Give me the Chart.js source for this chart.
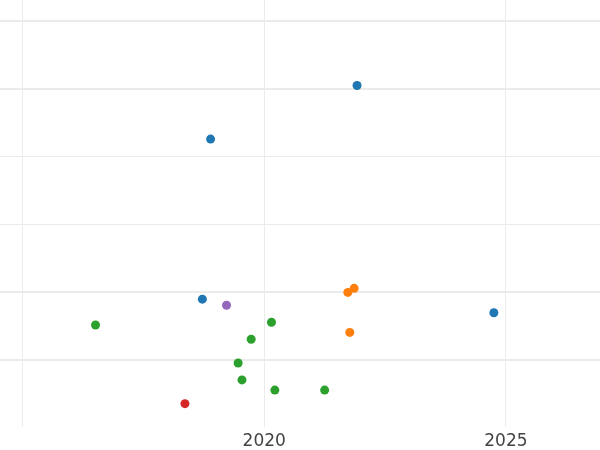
<!doctype html>
<html lang="en">
  <head>
    <meta charset="utf-8">
    <title>Scatter</title>
    <style>
      * { margin: 0; padding: 0; }
      body { background: white; }
      .chartBox { width: 600px; height: 450px; }
    </style>
  </head>
  <body>
    <div class="chartBox">
      <canvas id="myChart" width="600" height="450"></canvas>
    </div>
    <script src="https://cdn.jsdelivr.net/npm/chart.js/dist/chart.umd.min.js"></script>
    <script>
    // data
    const blueX   = [2021.92, 2018.89, 2018.72, 2024.75];
    const blueY   = [4.05, 3.26, 0.90, 0.70];
    const purpleX = [2019.22];
    const purpleY = [0.81];
    const orangeX = [2021.73, 2021.86, 2021.77];
    const orangeY = [1.00, 1.06, 0.41];
    const greenX  = [2016.51, 2020.15, 2019.73, 2019.46, 2019.54, 2020.22, 2021.25];
    const greenY  = [0.52, 0.56, 0.31, -0.04, -0.29, -0.44, -0.44];
    const redX    = [2018.36];
    const redY    = [-0.64];

    const xTicks = [2015, 2020, 2025];
    const xTickLabels = ['', '2020', '2025'];
    const yTicks = [0, 1, 2, 3, 4, 5];

    const pts = (xs, ys) => xs.map((x, i) => ({ x: x, y: ys[i] }));

    const series = [
      { data: pts(blueX, blueY), color: '#1f77b4' },
      { data: pts(purpleX, purpleY), color: '#9467bd' },
      { data: pts(orangeX, orangeY), color: '#ff7f0e' },
      { data: pts(greenX, greenY), color: '#2ca02c' },
      { data: pts(redX, redY), color: '#d62728' }
    ];

    const data = {
      datasets: series.map(s => ({
        data: s.data,
        backgroundColor: s.color,
        borderWidth: 0,
        pointRadius: 4.5,
        pointHoverRadius: 4.5
      }))
    };

    const config = {
      type: 'scatter',
      data,
      options: {
        responsive: false,
        animation: false,
        layout: { autoPadding: false, padding: 0 },
        plugins: {
          legend: { display: false },
          tooltip: { enabled: false }
        },
        scales: {
          x: {
            min: 2014.534,
            max: 2026.946,
            afterBuildTicks: s => { s.ticks = xTicks.map(v => ({ value: v })); },
            afterFit: s => { s.height = 23; },
            border: { display: false },
            grid: { color: '#ebebeb', lineWidth: 1, drawTicks: false },
            ticks: {
              padding: 4,
              color: '#444',
              maxRotation: 0,
              font: { family: 'DejaVu Sans', size: 17 },
              callback: (v, i) => xTickLabels[i]
            }
          },
          y: {
            min: -0.984,
            max: 5.31,
            afterBuildTicks: s => { s.ticks = yTicks.map(v => ({ value: v })); },
            afterFit: s => { s.width = 0; },
            border: { display: false },
            grid: {
              color: '#ebebeb',
              drawTicks: false,
              lineWidth: c => (c.tick && (c.tick.value === 2 || c.tick.value === 3)) ? 1 : 2
            },
            ticks: { display: false }
          }
        }
      }
    };

    const myChart = new Chart(document.getElementById('myChart'), config);
    </script>
  </body>
</html>
